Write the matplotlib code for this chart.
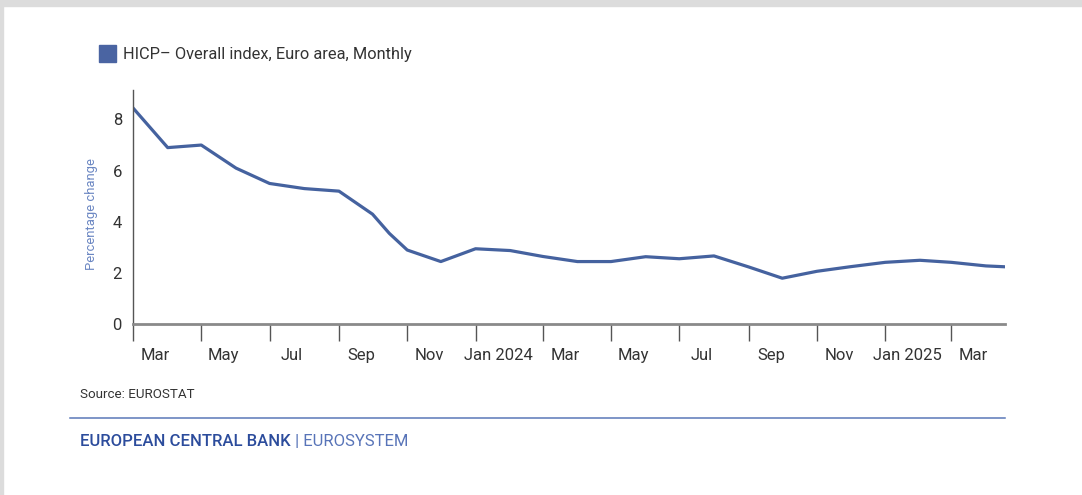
import matplotlib
matplotlib.use("Agg")
import matplotlib.pyplot as plt
from matplotlib.patches import Rectangle
import datetime as dt

plt.rcParams['font.family'] = ['Roboto', 'DejaVu Sans']

# ---- data (values plotted at end of each reference month) ----
dates = ["2023-03-01", "2023-04-01", "2023-05-01", "2023-06-01", "2023-07-01",
         "2023-08-01", "2023-09-01", "2023-10-01", "2023-10-16", "2023-11-01",
         "2023-12-01", "2024-01-01", "2024-02-01", "2024-03-01", "2024-04-01",
         "2024-05-01", "2024-06-01", "2024-07-01", "2024-08-01", "2024-09-01",
         "2024-10-01", "2024-11-01", "2024-12-01", "2025-01-01", "2025-02-01",
         "2025-03-01", "2025-04-01", "2025-05-01"]
values = [8.45, 6.9, 7.0, 6.1, 5.5,
          5.3, 5.2, 4.3, 3.55, 2.9,
          2.45, 2.95, 2.88, 2.65, 2.45,
          2.45, 2.64, 2.56, 2.67, 2.24,
          1.8, 2.07, 2.25, 2.42, 2.5,
          2.42, 2.28, 2.22]
tick_dates = ["2023-03-01", "2023-05-01", "2023-07-01", "2023-09-01", "2023-11-01",
              "2024-01-01", "2024-03-01", "2024-05-01", "2024-07-01", "2024-09-01",
              "2024-11-01", "2025-01-01", "2025-03-01"]
tick_labels = ["Mar", "May", "Jul", "Sep", "Nov", "Jan 2024", "Mar", "May", "Jul",
               "Sep", "Nov", "Jan 2025", "Mar"]
y_ticks = [0, 2, 4, 6, 8]
series_name = "HICP\u2013 Overall index, Euro area, Monthly"

x = [dt.datetime.strptime(d, "%Y-%m-%d") for d in dates]
tx = [dt.datetime.strptime(d, "%Y-%m-%d") for d in tick_dates]

W, H = 1082, 495
fig = plt.figure(figsize=(W / 100, H / 100), dpi=100)
fig.patch.set_facecolor("white")

def px(xp, yp):
    return xp / W, 1 - yp / H

# gray frame edges
fig.patches.append(Rectangle((0, 1 - 6 / H), 1, 6 / H, transform=fig.transFigure,
                             color="#dcdcdc", zorder=0))
fig.patches.append(Rectangle((0, 0), 2.5 / W, 1, transform=fig.transFigure,
                             color="#dcdcdc", zorder=0))

left, right, top, bottom = 133, 1005, 90, 324.3
ax = fig.add_axes([left / W, 1 - bottom / H, (right - left) / W, (bottom - top) / H])

line_color = "#45629f"
ax.plot(x, values, color=line_color, lw=2.3, solid_joinstyle="round", clip_on=True)

ax.set_xlim(dt.datetime(2023, 3, 1), dt.datetime(2025, 4, 18))
ax.set_ylim(0, 9.15)

for s in ["top", "right"]:
    ax.spines[s].set_visible(False)
ax.spines["left"].set_color("#555555")
ax.spines["left"].set_linewidth(1.0)
ax.spines["bottom"].set_color("#8a8a8a")
ax.spines["bottom"].set_linewidth(2.0)

ax.set_yticks(y_ticks)
ax.set_yticklabels([str(v) for v in y_ticks])
ax.tick_params(axis="y", length=0, pad=8, labelsize=12, labelcolor="#333333")

ax.set_xticks(tx)
ax.set_xticklabels([])
ax.tick_params(axis="x", which="major", length=12, width=1.0, color="#555555",
               direction="out")
# labels centred slightly after each tick
label_pos = [t + dt.timedelta(days=20) for t in tx]
ax.set_xticks(label_pos, minor=True)
ax.set_xticklabels(tick_labels, minor=True)
ax.tick_params(axis="x", which="minor", length=0, pad=17, labelsize=12,
               labelcolor="#333333")

# legend
lx0, ly0 = px(99.3, 61.7)
fig.patches.append(Rectangle((lx0, ly0), 16.4 / W, 16.7 / H, transform=fig.transFigure,
                             color="#4a64a2"))
fig.text(*px(123, 54), series_name, fontsize=11.8, color="#333333", va="center",
         ha="left")

# y label
fig.text(*px(91, 214), "Percentage change", rotation=90, fontsize=9.4,
         color="#6a86c2", va="center", ha="center")

# source
fig.text(*px(80, 394.5), "Source: EUROSTAT", fontsize=9.6, color="#333333",
         va="center", ha="left")

# footer line
fig.add_artist(plt.Line2D([70 / W, 1005 / W], [1 - 418.3 / H, 1 - 418.3 / H],
                          transform=fig.transFigure, color="#5a78b8", lw=1.1))

t1 = fig.text(*px(80, 441.5), "EUROPEAN CENTRAL BANK", fontsize=12,
              color="#2c4c9c", va="center", ha="left", fontweight="medium")
ax.annotate(" | EUROSYSTEM", xy=(1, 0.5), xycoords=t1, va="center", ha="left",
            fontsize=12, color="#5874b8", annotation_clip=False)

fig.savefig("out.png", dpi=100)
